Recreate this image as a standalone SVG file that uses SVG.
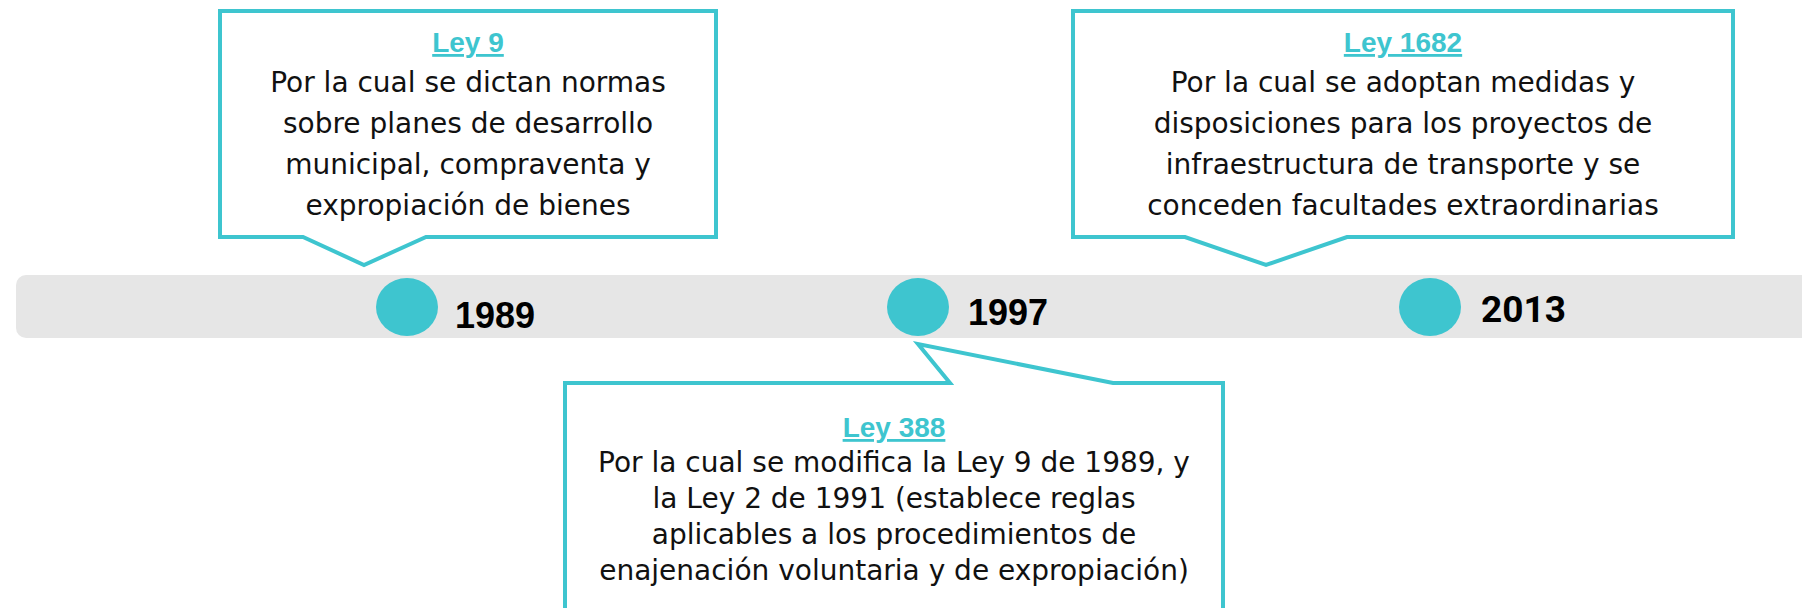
<svg xmlns="http://www.w3.org/2000/svg" width="1802" height="608" viewBox="0 0 1802 608">
<style>
.callout{fill:#ffffff;stroke:#3EC5CF;stroke-width:4;stroke-linejoin:miter}
.dot{fill:#3EC5CF}
.head{font-family:"Liberation Sans",Arial,sans-serif;font-weight:bold;font-size:28px;fill:#3EC5CF;text-decoration:underline;text-anchor:middle}
.body{font-family:"DejaVu Sans",sans-serif;font-size:28px;fill:#111111;text-anchor:middle}
.year{font-family:"Liberation Sans",Arial,sans-serif;font-weight:bold;font-size:36px;fill:#000000}
.year2{font-family:Roboto,"Liberation Sans",sans-serif;font-weight:bold;font-size:37px;fill:#000000}
</style>
<rect id="timeline" x="16" y="275" width="1810" height="63" rx="10" fill="#E6E6E6"/>
<g id="y1989">
<ellipse class="dot" cx="407" cy="307" rx="31" ry="29"/>
<text class="year" x="455" y="328">1989</text>
</g>
<g id="y1997">
<ellipse class="dot" cx="918" cy="307" rx="31" ry="29"/>
<text class="year" x="968" y="325">1997</text>
</g>
<g id="y2013">
<ellipse class="dot" cx="1430" cy="307" rx="31" ry="29"/>
<text class="year2" x="1481" y="322">2013</text>
</g>
<g id="ley9">
<path class="callout" d="M220,11 H716 V237 H426 L364,265 L303,237 H220 Z"/>
<text class="head" x="468" y="52">Ley 9</text>
<text class="body" x="468" y="92">Por la cual se dictan normas</text>
<text class="body" x="468" y="133">sobre planes de desarrollo</text>
<text class="body" x="468" y="174">municipal, compraventa y</text>
<text class="body" x="468" y="215">expropiación de bienes</text>
</g>
<g id="ley388">
<path class="callout" d="M565,383 H950 L918,344 L1113,383 H1223 V620 H565 Z"/>
<text class="head" x="894" y="437">Ley 388</text>
<text class="body" x="894" y="472">Por la cual se modifica la Ley 9 de 1989, y</text>
<text class="body" x="894" y="508">la Ley 2 de 1991 (establece reglas</text>
<text class="body" x="894" y="544">aplicables a los procedimientos de</text>
<text class="body" x="894" y="580">enajenación voluntaria y de expropiación)</text>
</g>
<g id="ley1682">
<path class="callout" d="M1073,11 H1733 V237 H1347 L1266,265 L1185,237 H1073 Z"/>
<text class="head" x="1403" y="52">Ley 1682</text>
<text class="body" x="1403" y="92">Por la cual se adoptan medidas y</text>
<text class="body" x="1403" y="133">disposiciones para los proyectos de</text>
<text class="body" x="1403" y="174">infraestructura de transporte y se</text>
<text class="body" x="1403" y="215">conceden facultades extraordinarias</text>
</g>
<g id="connectors"></g>
</svg>
